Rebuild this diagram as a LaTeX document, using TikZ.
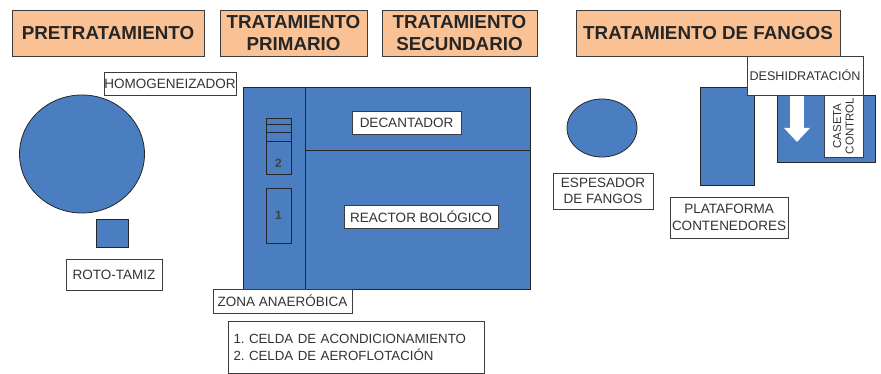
\documentclass[tikz,border=0pt]{standalone}
\usepackage{fontspec}
\setmainfont{Liberation Sans}
\usetikzlibrary{shapes.geometric,arrows.meta}
\frenchspacing

\definecolor{plantblue}{RGB}{74,126,193}
\definecolor{headorange}{RGB}{250,194,148}
\definecolor{edgegray}{RGB}{60,60,60}

\tikzset{
hdr/.style={draw=edgegray, fill=headorange, line width=0.9pt, align=center,
  font=\fontsize{18.8}{21.5}\selectfont\bfseries, text=black!85, inner sep=0pt},
lbl/.style={draw=edgegray, fill=white, line width=0.8pt, align=center,
  font=\fontsize{13.5}{16}\selectfont, text=black!80, inner sep=0pt},
tank/.style={draw=black!85, fill=plantblue, line width=0.8pt, inner sep=0pt},
cell/.style={draw=black!85, line width=0.8pt, inner sep=0pt}
}

\begin{document}
\begin{tikzpicture}[x=1pt,y=-1pt]

\useasboundingbox (0,0) rectangle (881,374);

%%%%%%%%%%%%%%%%%%%%%%%%%%%%%%%%%%%%%%%%%%%%%%%%%%%%%%
% HEADERS
%%%%%%%%%%%%%%%%%%%%%%%%%%%%%%%%%%%%%%%%%%%%%%%%%%%%%%

\node[hdr, minimum width=192pt, minimum height=46pt](pre) at (108,33) {PRETRATAMIENTO};

\node[hdr, minimum width=147pt, minimum height=46pt](prim) at (293.5,33) {TRATAMIENTO\\PRIMARIO};

\node[hdr, minimum width=155pt, minimum height=46pt](sec) at (459.5,33) {TRATAMIENTO\\SECUNDARIO};

\node[hdr, minimum width=264pt, minimum height=46pt](fang) at (708,33) {TRATAMIENTO DE FANGOS};

%%%%%%%%%%%%%%%%%%%%%%%%%%%%%%%%%%%%%%%%%%%%%%%%%%%%%%
% PRETREATMENT
%%%%%%%%%%%%%%%%%%%%%%%%%%%%%%%%%%%%%%%%%%%%%%%%%%%%%%

\node[
tank,
ellipse,
minimum width=125pt,
minimum height=118pt
](homog) at (82,154) {};

\node[lbl, minimum width=132pt, minimum height=23pt](homoglbl) at (170,83.5) {HOMOGENEIZADOR};

\node[tank, minimum width=32pt, minimum height=28pt](tamiz) at (112,233) {};

\node[lbl, minimum width=96pt, minimum height=31pt](tamizlbl) at (114,274.5) {ROTO-TAMIZ};

%%%%%%%%%%%%%%%%%%%%%%%%%%%%%%%%%%%%%%%%%%%%%%%%%%%%%%
% PRIMARY / SECONDARY
%%%%%%%%%%%%%%%%%%%%%%%%%%%%%%%%%%%%%%%%%%%%%%%%%%%%%%

\node[tank, minimum width=62pt, minimum height=202pt](anaer) at (274,188) {};

\node[tank, minimum width=225pt, minimum height=63pt](decz) at (417.5,118.5) {};

\node[tank, minimum width=225pt, minimum height=139pt](reacz) at (417.5,219.5) {};

\node[lbl, minimum width=109pt, minimum height=23pt](declbl) at (406.5,122.5) {DECANTADOR};

\node[lbl, minimum width=154pt, minimum height=23pt](reaclbl) at (421,216.5) {REACTOR BOLÓGICO};

% cells
\node[cell, minimum width=25pt, minimum height=56pt](cell2) at (278.5,146) {};
\draw[cell] ([yshift=-7pt]cell2.north west) -- ([yshift=-7pt]cell2.north east);
\draw[cell] ([yshift=-15pt]cell2.north west) -- ([yshift=-15pt]cell2.north east);
\draw[cell] ([yshift=-24pt]cell2.north west) -- ([yshift=-24pt]cell2.north east);
\node[font=\fontsize{12}{14}\selectfont\bfseries, text=black!75](two) at (278.5,163) {2};

\node[cell, minimum width=25pt, minimum height=55pt](cell1) at (278.5,215.5) {};
\node[font=\fontsize{12}{14}\selectfont\bfseries, text=black!75](one) at (cell1) {1};

\node[lbl, minimum width=139pt, minimum height=24pt](zonalbl) at (282.5,301) {ZONA ANAERÓBICA};

\node[
lbl,
minimum width=256pt,
minimum height=52pt,
text width=245pt,
align=left,
inner xsep=5.5pt,
font=\fontsize{13.3}{17}\selectfont
](legend) at (356,347) {1. CELDA DE ACONDICIONAMIENTO\\2. CELDA DE AEROFLOTACIÓN};

%%%%%%%%%%%%%%%%%%%%%%%%%%%%%%%%%%%%%%%%%%%%%%%%%%%%%%
% SLUDGE
%%%%%%%%%%%%%%%%%%%%%%%%%%%%%%%%%%%%%%%%%%%%%%%%%%%%%%

\node[tank, ellipse, minimum width=70pt, minimum height=58pt](espes) at (602,128) {};

\node[lbl, minimum width=100pt, minimum height=36pt, font=\fontsize{13.5}{16}\selectfont](espeslbl) at (603,191) {ESPESADOR\\DE FANGOS};

\node[tank, minimum width=54pt, minimum height=98pt](plat) at (727,136) {};

\node[lbl, minimum width=118pt, minimum height=41pt, font=\fontsize{13.5}{17}\selectfont](platlbl) at (729,217.5) {PLATAFORMA\\CONTENEDORES};

\node[tank, minimum width=98pt, minimum height=67pt](dewater) at (826,128.5) {};

\node[
lbl,
rotate=90,
minimum width=62pt,
minimum height=39pt,
font=\fontsize{11.5}{12.5}\selectfont
](caseta) at (843.5,126) {CASETA\\CONTROL};

\coordinate (flowtop) at (797,95);
\coordinate (flowend) at (797,142);
\draw[white, line width=14pt, -{Triangle[length=14pt,width=25pt]}] (flowtop) -- (flowend);

\node[lbl, minimum width=116pt, minimum height=39pt, font=\fontsize{12.6}{14}\selectfont](deshlbl) at (805,75.5) {DESHIDRATACIÓN};

\end{tikzpicture}
\end{document}
